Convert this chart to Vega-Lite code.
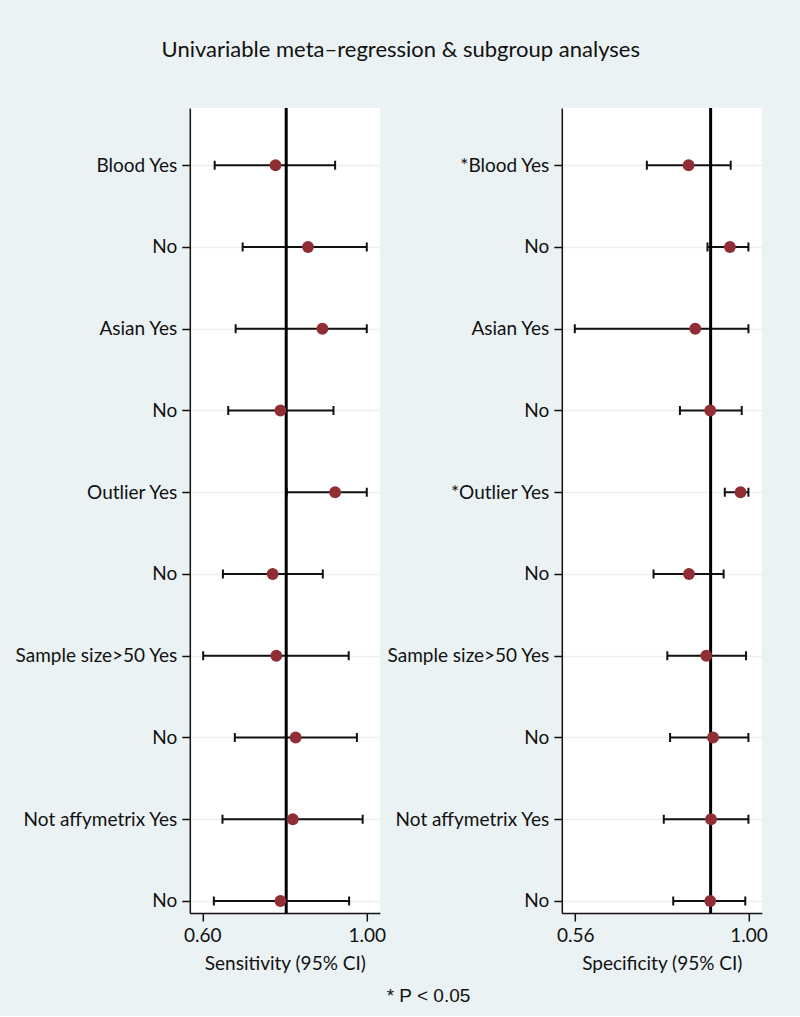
{
  "$schema": "https://vega.github.io/schema/vega-lite/v6.json",
  "background": "#eaf2f3",
  "padding": {"left": 13.5, "top": 38, "right": 32, "bottom": 8},
  "title": {"text": "Univariable meta\u2013regression & subgroup analyses", "font": "Lato", "fontSize": 22, "fontWeight": "normal", "color": "#111111", "anchor": "middle", "offset": 45, "dx": 10},
  "datasets": {
    "sens": [
      {"row": 10, "est": 0.778, "lo": 0.630, "hi": 0.923},
      {"row": 9, "est": 0.857, "lo": 0.698, "hi": 1.000},
      {"row": 8, "est": 0.892, "lo": 0.681, "hi": 1.000},
      {"row": 7, "est": 0.790, "lo": 0.663, "hi": 0.919},
      {"row": 6, "est": 0.923, "lo": 0.805, "hi": 1.000},
      {"row": 5, "est": 0.771, "lo": 0.650, "hi": 0.893},
      {"row": 4, "est": 0.780, "lo": 0.602, "hi": 0.956},
      {"row": 3, "est": 0.827, "lo": 0.679, "hi": 0.976},
      {"row": 2, "est": 0.820, "lo": 0.649, "hi": 0.990},
      {"row": 1, "est": 0.790, "lo": 0.628, "hi": 0.957}
    ],
    "spec": [
      {"row": 10, "est": 0.848, "lo": 0.742, "hi": 0.955},
      {"row": 9, "est": 0.953, "lo": 0.896, "hi": 1.000},
      {"row": 8, "est": 0.865, "lo": 0.559, "hi": 1.000},
      {"row": 7, "est": 0.903, "lo": 0.826, "hi": 0.983},
      {"row": 6, "est": 0.980, "lo": 0.940, "hi": 1.000},
      {"row": 5, "est": 0.849, "lo": 0.759, "hi": 0.937},
      {"row": 4, "est": 0.893, "lo": 0.794, "hi": 0.994},
      {"row": 3, "est": 0.910, "lo": 0.801, "hi": 1.000},
      {"row": 2, "est": 0.905, "lo": 0.785, "hi": 1.000},
      {"row": 1, "est": 0.903, "lo": 0.809, "hi": 0.992}
    ],
    "refs_sens": [{"ref": 0.804}],
    "refs_spec": [{"ref": 0.904}],
    "note": [{"note": "* P < 0.05"}]
  },
  "vconcat": [
    {
      "hconcat": [
        {
          "width": 190,
          "height": 805,
          "layer": [
            {
              "data": {"name": "sens"},
              "mark": {"type": "rule", "strokeWidth": 2, "color": "#111111"},
              "encoding": {
                "x": {"field": "lo", "type": "quantitative", "scale": {"domain": [0.5695, 1.0317], "nice": false, "zero": false},
                      "axis": {"values": [0.6, 1.0], "format": ".2f", "grid": false, "title": "Sensitivity (95% CI)"}},
                "x2": {"field": "hi"},
                "y": {"field": "row", "type": "quantitative", "scale": {"domain": [0.853, 10.70], "nice": false, "zero": false},
                      "axis": {"values": [1, 2, 3, 4, 5, 6, 7, 8, 9, 10], "grid": true, "title": null,
                               "labelExpr": "['', 'No', 'Not affymetrix Yes', 'No', 'Sample size>50 Yes', 'No', 'Outlier Yes', 'No', 'Asian Yes', 'No', 'Blood Yes'][datum.value]"}}
              }
            },
            {
              "data": {"name": "sens"},
              "mark": {"type": "tick", "orient": "vertical", "size": 9, "thickness": 2, "color": "#111111", "opacity": 1},
              "encoding": {"x": {"field": "lo", "type": "quantitative"}, "y": {"field": "row", "type": "quantitative"}}
            },
            {
              "data": {"name": "sens"},
              "mark": {"type": "tick", "orient": "vertical", "size": 9, "thickness": 2, "color": "#111111", "opacity": 1},
              "encoding": {"x": {"field": "hi", "type": "quantitative"}, "y": {"field": "row", "type": "quantitative"}}
            },
            {
              "data": {"name": "refs_sens"},
              "mark": {"type": "rule", "strokeWidth": 3, "color": "#000000"},
              "encoding": {"x": {"field": "ref", "type": "quantitative"}}
            },
            {
              "data": {"name": "sens"},
              "mark": {"type": "circle", "size": 140, "color": "#902d35", "opacity": 1},
              "encoding": {"x": {"field": "est", "type": "quantitative"}, "y": {"field": "row", "type": "quantitative"}}
            }
          ]
        },
        {
          "width": 200,
          "height": 805,
          "layer": [
            {
              "data": {"name": "spec"},
              "mark": {"type": "rule", "strokeWidth": 2, "color": "#111111"},
              "encoding": {
                "x": {"field": "lo", "type": "quantitative", "scale": {"domain": [0.526, 1.034], "nice": false, "zero": false},
                      "axis": {"values": [0.56, 1.0], "format": ".2f", "grid": false, "title": "Specificity (95% CI)"}},
                "x2": {"field": "hi"},
                "y": {"field": "row", "type": "quantitative", "scale": {"domain": [0.853, 10.70], "nice": false, "zero": false},
                      "axis": {"values": [1, 2, 3, 4, 5, 6, 7, 8, 9, 10], "grid": true, "title": null,
                               "labelExpr": "['', 'No', 'Not affymetrix Yes', 'No', 'Sample size>50 Yes', 'No', '*Outlier Yes', 'No', 'Asian Yes', 'No', '*Blood Yes'][datum.value]"}}
              }
            },
            {
              "data": {"name": "spec"},
              "mark": {"type": "tick", "orient": "vertical", "size": 9, "thickness": 2, "color": "#111111", "opacity": 1},
              "encoding": {"x": {"field": "lo", "type": "quantitative"}, "y": {"field": "row", "type": "quantitative"}}
            },
            {
              "data": {"name": "spec"},
              "mark": {"type": "tick", "orient": "vertical", "size": 9, "thickness": 2, "color": "#111111", "opacity": 1},
              "encoding": {"x": {"field": "hi", "type": "quantitative"}, "y": {"field": "row", "type": "quantitative"}}
            },
            {
              "data": {"name": "refs_spec"},
              "mark": {"type": "rule", "strokeWidth": 3, "color": "#000000"},
              "encoding": {"x": {"field": "ref", "type": "quantitative"}}
            },
            {
              "data": {"name": "spec"},
              "mark": {"type": "circle", "size": 140, "color": "#902d35", "opacity": 1},
              "encoding": {"x": {"field": "est", "type": "quantitative"}, "y": {"field": "row", "type": "quantitative"}}
            }
          ]
        }
      ],
      "spacing": 0
    },
    {
      "width": 120,
      "height": 24,
      "view": {"fill": null, "stroke": null},
      "data": {"name": "note"},
      "mark": {"type": "text", "font": "Liberation Sans", "fontSize": 19, "color": "#111111", "dx": -50},
      "encoding": {"text": {"field": "note"}}
    }
  ],
  "center": true,
  "spacing": 11,
  "config": {
    "view": {"fill": "white", "stroke": null},
    "axis": {
      "labelFont": "Lato", "labelFontSize": 19, "labelColor": "#111111",
      "titleFont": "Lato", "titleFontSize": 19, "titleFontWeight": "normal", "titleColor": "#111111",
      "domainColor": "#111111", "domainWidth": 1.5, "tickColor": "#111111", "tickWidth": 1.5, "tickSize": 8,
      "gridColor": "#eeeeee", "gridWidth": 1.5, "labelPadding": 5, "titlePadding": 9
    },
    "axisY": {"labelLimit": 300, "titlePadding": 6}
  }
}
